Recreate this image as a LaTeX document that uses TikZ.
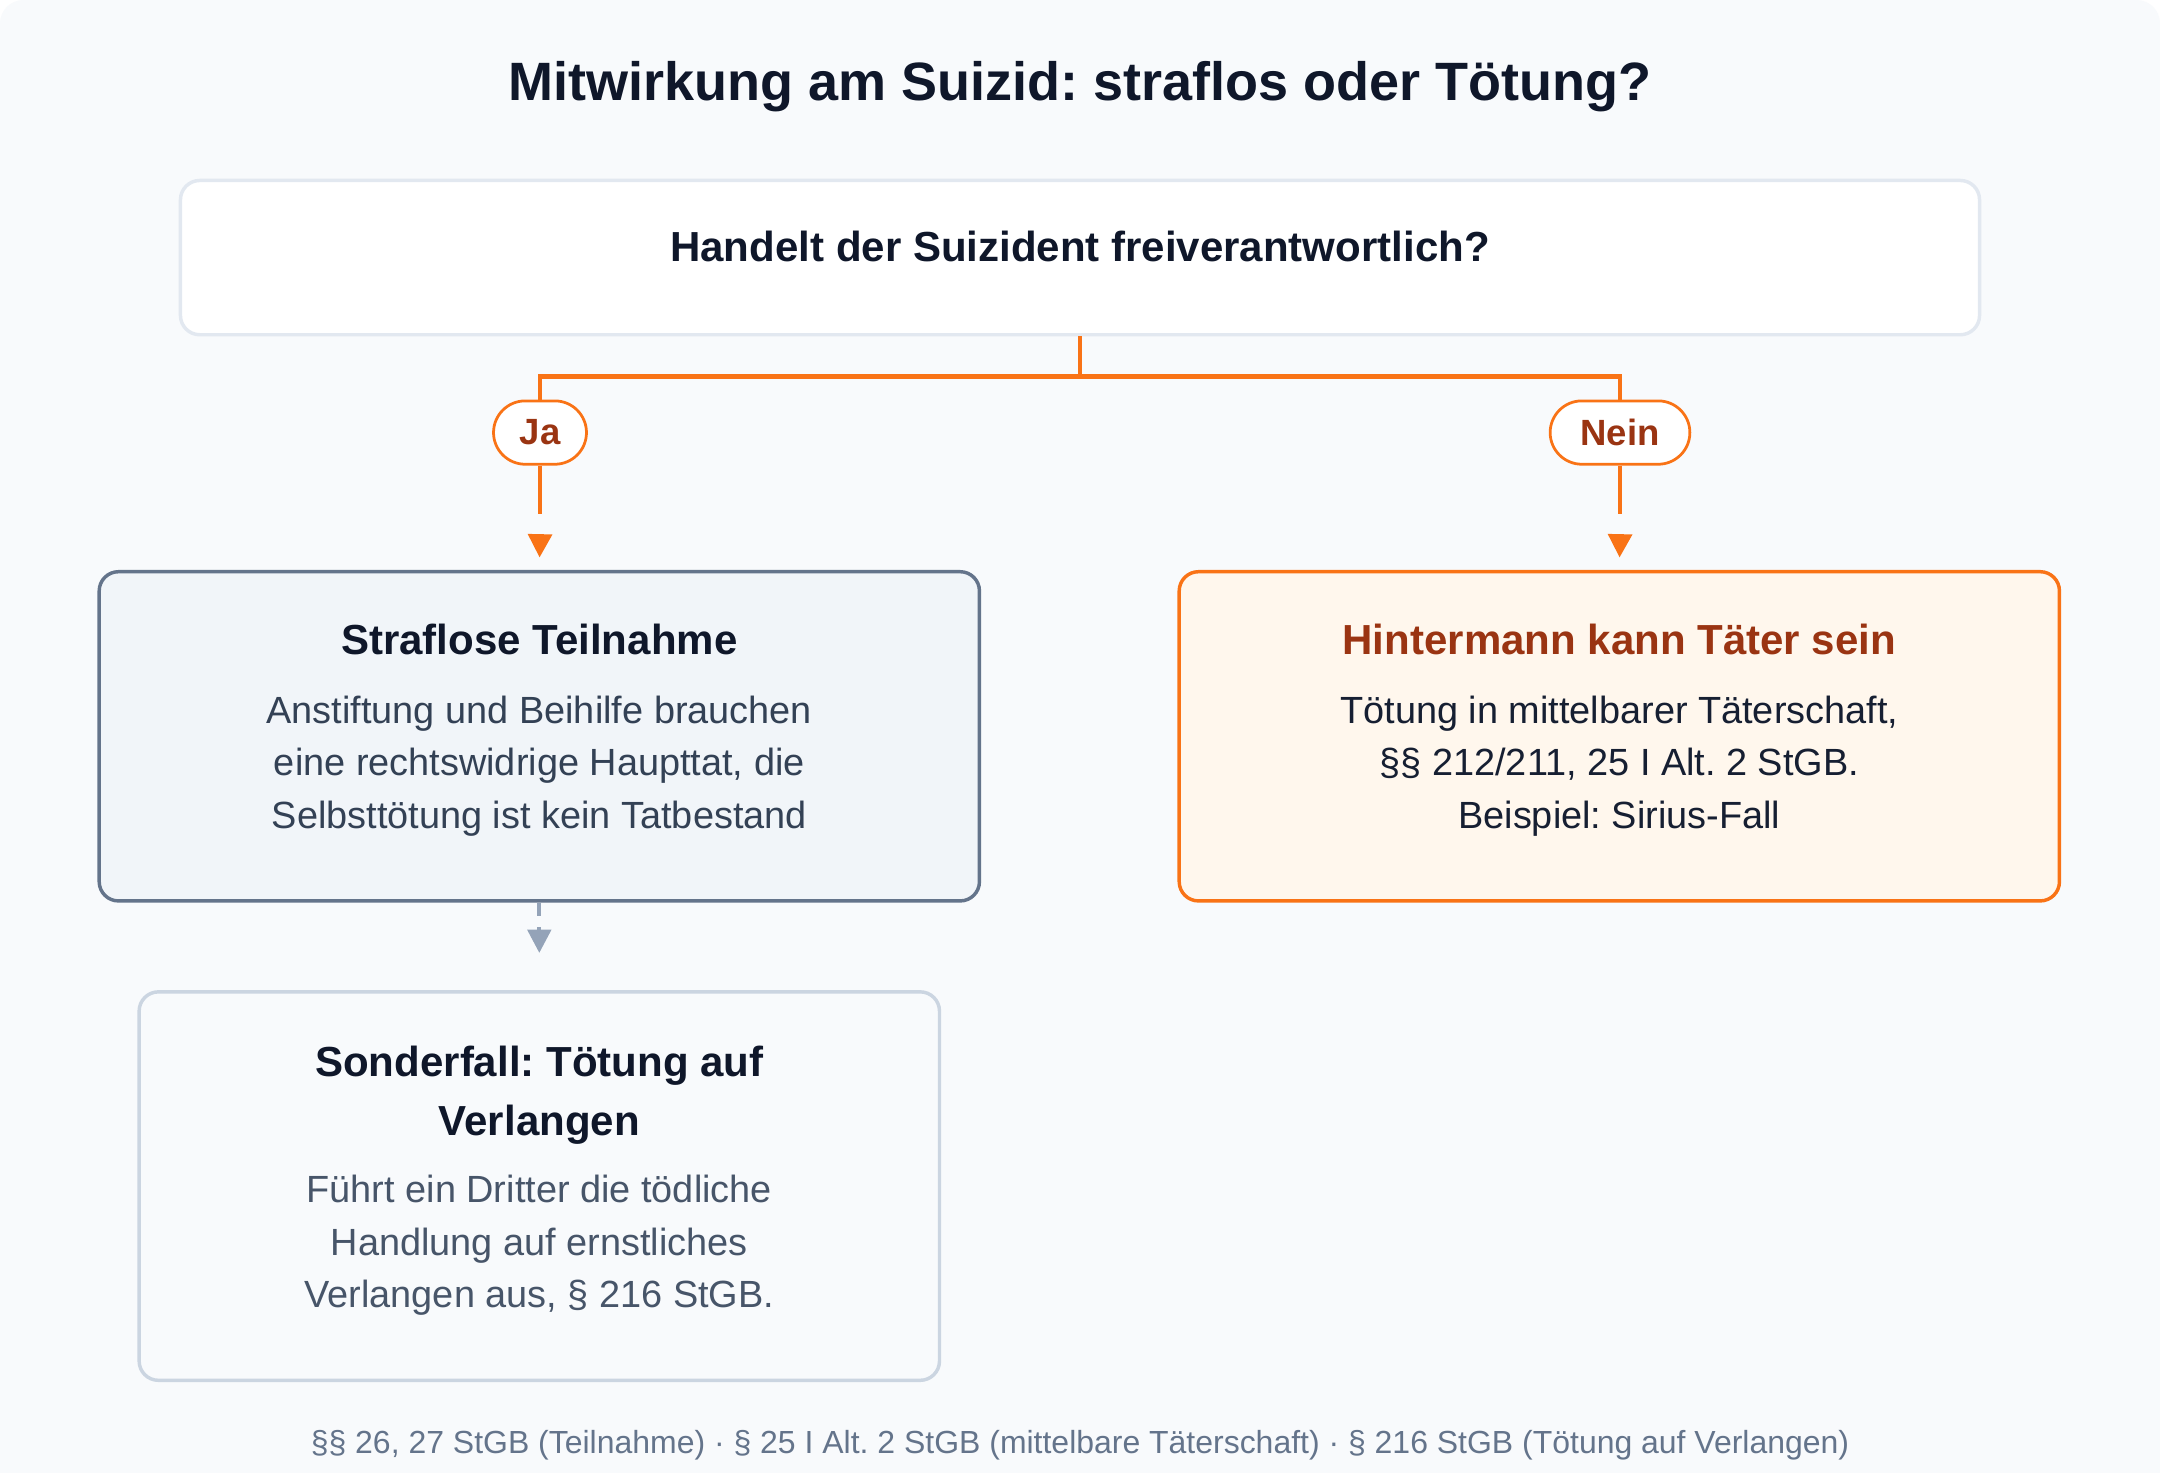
\documentclass[tikz,border=0pt]{standalone}
\usepackage{fontspec}
\setmainfont{Liberation Sans}
\usetikzlibrary{arrows.meta}
\frenchspacing

\definecolor{hintergrund}{HTML}{F8FAFC}
\definecolor{dunkel}{HTML}{0F172A}
\definecolor{schiefer}{HTML}{334155}
\definecolor{mittelgrau}{HTML}{475569}
\definecolor{randgrau}{HTML}{64748B}
\definecolor{hellrand}{HTML}{E2E8F0}
\definecolor{unterrand}{HTML}{CBD5E1}
\definecolor{pfeilgrau}{HTML}{94A3B8}
\definecolor{kastengrau}{HTML}{F1F5F9}
\definecolor{orange}{HTML}{F97316}
\definecolor{hellorange}{HTML}{FFF7ED}
\definecolor{braun}{HTML}{9A3412}

\begin{document}
\begin{tikzpicture}[x=1pt,y=-1pt,
  kasten/.style={draw,rounded corners=14pt,line width=2.5pt,inner sep=0pt},
  kopf/.style={font=\bfseries\fontsize{30.5}{43}\selectfont,inner sep=0pt,align=center},
  rumpf/.style={font=\fontsize{27.5}{38}\selectfont,inner sep=0pt,align=center},
  pille/.style={draw=orange,fill=white,line width=2pt,rounded corners=23pt,
    minimum height=46pt,inner xsep=20pt,inner ysep=0pt,text=braun,
    font=\bfseries\fontsize{26.5}{30}\selectfont},
  zweig/.style={draw=orange,line width=3.5pt},
  spitze/.style={draw=orange,line width=3.5pt,shorten >=9pt,
    -{Triangle[width=17pt,length=17pt]}},
  grau/.style={draw=pfeilgrau,line width=3pt,dash pattern=on 10pt off 8pt,
    shorten >=27pt,-{Triangle[width=17pt,length=17pt]}}]

% Hintergrund
\useasboundingbox (0,0) rectangle (1568,1069);
\fill[white] (0,0) rectangle (1568,1069);
\fill[hintergrund,rounded corners=17pt] (0,0) rectangle (1568,1069);
\fill[hintergrund] (0,500) rectangle (1568,1069);

\node[anchor=base,inner sep=0pt,text=dunkel,font=\bfseries\fontsize{39.2}{47}\selectfont]
  (titel) at (784,73) {Mitwirkung am Suizid: straflos oder Tötung?};

% Frage
\node[kasten,draw=hellrand,fill=white,minimum width=1306pt,minimum height=112pt]
  (frage) at (784,187) {};
\node[anchor=base,inner sep=0pt,text=dunkel,font=\bfseries\fontsize{30.5}{36}\selectfont]
  (fragetext) at (784,190) {Handelt der Suizident freiverantwortlich?};

\node[pille,inner xsep=19pt] (ja) at (392,314) {Ja};
\node[pille,inner xsep=22pt] (nein) at (1176,314) {Nein};

% Kaesten
\node[kasten,draw=randgrau,fill=kastengrau,minimum width=639pt,minimum height=239pt]
  (links) at (391.5,534.5) {};
\node[kopf,anchor=base,text=dunkel] (linkskopf) at (391.5,475) {Straflose Teilnahme};
\node[rumpf,text=schiefer] (linkstext) at (391.5,556)
  {Anstiftung und Beihilfe brauchen\\eine rechtswidrige Haupttat, die\\Selbsttötung ist kein Tatbestand};

\node[kasten,draw=orange,fill=hellorange,minimum width=639pt,minimum height=239pt]
  (rechts) at (1175.5,534.5) {};
\node[kopf,anchor=base,text=braun] (rechtskopf) at (1175.5,475) {Hintermann kann Täter sein};
\node[rumpf,text=dunkel!80!schiefer] (rechtstext) at (1175.5,556)
  {Tötung in mittelbarer Täterschaft,\\§§ 212/211, 25 I Alt. 2 StGB.\\Beispiel: Sirius-Fall};

\node[kasten,draw=unterrand,fill=hintergrund,minimum width=581pt,minimum height=282pt]
  (unten) at (391.5,861) {};
\node[kopf,text=dunkel] (untenkopf) at (391.5,795) {Sonderfall: Tötung auf\\Verlangen};
\node[rumpf,text=mittelgrau] (untentext) at (391.5,904)
  {Führt ein Dritter die tödliche\\Handlung auf ernstliches\\Verlangen aus, § 216 StGB.};

\node[anchor=base,inner sep=0pt,text=randgrau,font=\fontsize{23.2}{27}\selectfont]
  (fuss) at (784,1055) {§§ 26, 27 StGB (Teilnahme) · § 25 I Alt. 2 StGB (mittelbare Täterschaft) · § 216 StGB (Tötung auf Verlangen)};

% Verbindungen
\draw[zweig] (frage.south) -- ++(0,29) -| (ja.north);
\draw[zweig] (frage.south) ++(0,29) -| (nein.north);
\draw[zweig] (ja.south) -- ++(0,35);
\draw[zweig] (nein.south) -- ++(0,35);
\draw[spitze] ([yshift=-52pt]ja.south) -- (links.north);
\draw[spitze] ([yshift=-52pt]nein.south) -- (rechts.north);
\draw[grau] (links.south) -- (unten.north);
\end{tikzpicture}
\end{document}
